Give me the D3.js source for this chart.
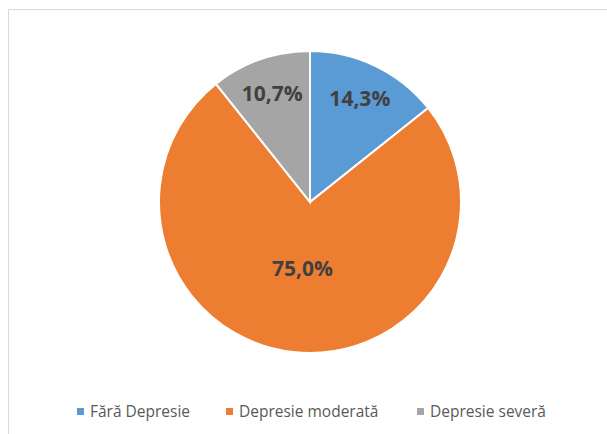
<!DOCTYPE html>
<html lang="ro">
<head>
  <meta charset="UTF-8">
  <title>Depresie</title>
  <style>
    body {
      margin: 0;
      background: #fff;
      font-family: "Open Sans", "Noto Sans", Arial, sans-serif;
    }
    svg { display: block; }
  </style>
</head>
<body>
  <div id="chart"></div>
  <script src="https://d3js.org/d3.v7.min.js"></script>
  <script>
    // Chart data
    const categories = ["Fără Depresie", "Depresie moderată", "Depresie severă"];
    const values = [14.3, 75.0, 10.7];
    const colors = ["#5b9bd5", "#ed7d31", "#a5a5a5"];

    const W = 607, H = 434;
    const cx = 310, cy = 202, r = 151;

    const svg = d3.select("#chart")
      .append("svg")
      .attr("width", W)
      .attr("height", H);

    // Chart area border (runs off the right and bottom edges)
    svg.append("rect")
      .attr("x", 8.5)
      .attr("y", 9.5)
      .attr("width", W + 20)
      .attr("height", H + 20)
      .attr("fill", "#fff")
      .attr("stroke", "#d9d9d9")
      .attr("stroke-width", 1);

    const data = categories.map((c, i) => ({ name: c, value: values[i] }));

    const pie = d3.pie()
      .value(d => d.value)
      .sort(null);

    const arc = d3.arc().innerRadius(0).outerRadius(r);

    const color = d3.scaleOrdinal().domain(categories).range(colors);

    const g = svg.append("g")
      .attr("transform", `translate(${cx},${cy})`);

    const arcs = pie(data);

    g.selectAll("path")
      .data(arcs)
      .enter()
      .append("path")
      .attr("d", arc)
      .attr("fill", d => color(d.data.name))
      .attr("stroke", "#fff")
      .attr("stroke-width", 2);

    // Labels: big slice closer to the center, small ones further out
    g.selectAll("text.lbl")
      .data(arcs)
      .enter()
      .append("text")
      .attr("class", "lbl")
      .attr("transform", d => {
        const share = (d.endAngle - d.startAngle) / (2 * Math.PI);
        const k = share > 0.5 ? 0.44 : 0.76;
        const a = (d.startAngle + d.endAngle) / 2;
        return `translate(${Math.sin(a) * r * k},${-Math.cos(a) * r * k})`;
      })
      .attr("text-anchor", "middle")
      .attr("dy", "0.36em")
      .attr("fill", "#404040")
      .style("font-size", "21px")
      .style("font-weight", "bold")
      .text(d => d3.format(".1f")(d.data.value).replace(".", ",") + "%");

    // Legend
    const legendX = [77, 226, 417];
    const legend = svg.append("g").attr("transform", "translate(0,412)");
    const items = legend.selectAll("g")
      .data(categories)
      .enter()
      .append("g")
      .attr("transform", (d, i) => `translate(${legendX[i]},0)`);

    items.append("rect")
      .attr("x", 0)
      .attr("y", -4)
      .attr("width", 7)
      .attr("height", 7)
      .attr("fill", d => color(d));

    items.append("text")
      .attr("x", 13)
      .attr("y", 0)
      .attr("dy", "0.35em")
      .attr("fill", "#595959")
      .style("font-size", "15.5px")
      .text(d => d);
  </script>
</body>
</html>
